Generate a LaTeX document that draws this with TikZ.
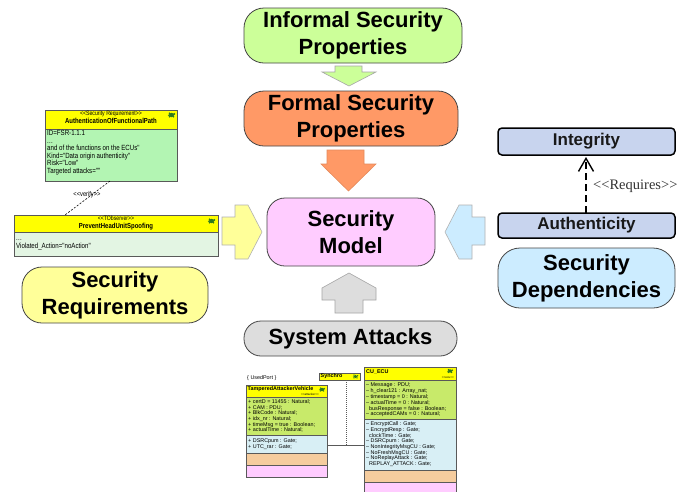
\documentclass[tikz,border=0pt]{standalone}
\usepackage{fontspec}
\setmainfont{Liberation Sans}
\newfontfamily\umlfont[FakeStretch=0.82]{Liberation Sans}
\newfontfamily\reqfont{Liberation Serif}
\usetikzlibrary{arrows.meta,fit}
\definecolor{boxline}{HTML}{454545}
\definecolor{cinformal}{HTML}{CCFF99}
\definecolor{cformal}{HTML}{FF9966}
\definecolor{cmodel}{HTML}{FFCCFF}
\definecolor{creq}{HTML}{FFFF99}
\definecolor{cdep}{HTML}{CCECFF}
\definecolor{catt}{HTML}{DDDDDD}
\definecolor{cprop}{HTML}{C8D4EE}
\definecolor{umlyellow}{HTML}{FFFF00}
\definecolor{srgreen}{HTML}{B3F5B3}
\definecolor{obsgreen}{HTML}{E3F5E3}
\definecolor{blkgreen}{HTML}{C8EA6A}
\definecolor{blkblue}{HTML}{D8EFF5}
\definecolor{blkpeach}{HTML}{F5CC9E}
\definecolor{blkpink}{HTML}{FFCCFF}
\definecolor{turtlegreen}{HTML}{2E7A1E}
\tikzset{
  bigbox/.style={draw=boxline, line width=0.8pt, rounded corners=#1, inner sep=0pt},
  bigtxt/.style={font=\bfseries\fontsize{22}{27}\selectfont, align=center, text=black},
  propbox/.style={draw=black, line width=1.5pt, rounded corners=4pt, fill=cprop, inner sep=0pt},
  proptxt/.style={font=\bfseries\fontsize{17}{20}\selectfont, text=black!90},
  blockarrow/.style={line width=0.6pt, line join=miter},
  umlrect/.style={draw=gray!70!black, line width=0.5pt},
  umlname/.style={font=\umlfont\bfseries\fontsize{7.3}{8}\selectfont, inner sep=0pt},
  umlster/.style={font=\umlfont\fontsize{6.3}{7}\selectfont, inner sep=0pt},
  umlbody/.style={font=\umlfont\fontsize{7.5}{7.5}\selectfont, inner sep=0pt, anchor=base west},
  blktxt/.style={font=\fontsize{5.4}{5.4}\selectfont, inner sep=0pt, anchor=base west},
  blkname/.style={font=\bfseries\fontsize{5.4}{5.5}\selectfont, inner sep=0pt},
  blksub/.style={font=\fontsize{3}{3}\selectfont, inner sep=0pt},
  turtle/.pic={
    \fill[turtlegreen] (0,0) ellipse (2.6 and 2.1);
    \fill[turtlegreen] (2.8,-1.0) circle (1.1);
    \fill[turtlegreen] (-2.0,1.8) circle (0.9) (2.0,1.8) circle (0.9)
                       (-2.0,-1.8) circle (0.9) (-3.0,0.3) circle (0.6);
  }
}
\begin{document}
\begin{tikzpicture}[x=1pt,y=-1pt]
\useasboundingbox (0,0) rectangle (686,491);
\fill[white] (0,0) rectangle (686,491);

% ---------- main boxes ----------
\node[bigbox=20pt, fill=cinformal, fit={(244,8) (462,63)}] (informal) {};
\node[bigtxt] at (informal.center) {Informal Security\\Properties};

\node[bigbox=20pt, fill=cformal, fit={(244,91) (458,146)}] (formal) {};
\node[bigtxt] at (formal.center) {Formal Security\\Properties};

\node[bigbox=18pt, fill=cmodel, fit={(267,198) (435,266)}] (model) {};
\node[bigtxt] at (model.center) {Security\\Model};

\node[bigbox=17pt, fill=catt, fit={(244,321) (457,356)}] (attacks) {};
\node[bigtxt] at (attacks.center) {System Attacks};

\node[bigbox=20pt, fill=creq, fit={(22,267) (208,323)}] (reqs) {};
\node[bigtxt] at (reqs.center) {Security\\Requirements};

\node[bigbox=22pt, fill=cdep, fit={(498,248) (675,308)}] (deps) {};
\node[bigtxt] at (deps.center) {Security\\Dependencies};

% ---------- block arrows ----------
\draw[blockarrow, draw=gray!70, fill=cinformal]
  (335,66) -- (362,66) -- (362,72) -- (376,72) -- (349,86) -- (322,72) -- (335,72) -- cycle;
\draw[blockarrow, draw=cformal!90!black, fill=cformal]
  (327,150) -- (364,150) -- (364,164) -- (376,164) -- (348.5,191) -- (321,164) -- (327,164) -- cycle;
\draw[blockarrow, draw=gray!60, fill=creq]
  (222,217) -- (235,217) -- (235,205) -- (248,205) -- (262,232) -- (248,259) -- (235,259) -- (235,245) -- (222,245) -- cycle;
\draw[blockarrow, draw=gray!60, fill=cdep]
  (485,217) -- (472,217) -- (472,205) -- (459,205) -- (445,232) -- (459,259) -- (472,259) -- (472,245) -- (485,245) -- cycle;
\draw[blockarrow, draw=gray!70, fill=catt]
  (335,313) -- (335,300) -- (322,300) -- (322,288) -- (349,273) -- (376,288) -- (376,300) -- (363,300) -- (363,313) -- cycle;

% ---------- security properties ----------
\node[propbox, fit={(498,128) (675,155)}] (integ) {};
\node[proptxt] at (integ.center) {Integrity};
\node[propbox, fit={(498,213) (675,238)}] (auth) {};
\node[proptxt] at (auth.center) {Authenticity};
\coordinate (reqA) at (586,213);
\coordinate (reqB) at (586,157);
\draw[line width=1.4pt, dash pattern=on 7pt off 4pt,
      -{Straight Barb[length=13pt,width=15pt,line width=1.4pt]}] (reqA) -- (reqB);
\node[font=\reqfont\fontsize{14.5}{16}\selectfont, text=black!80, anchor=west, inner sep=0pt]
  (reqlbl) at (593,186) {<\kern0pt<Requires>\kern0pt>};

% ---------- UML: security requirement ----------
\fill[srgreen] (45,129) rectangle (177,181);
\fill[umlyellow] (45,110) rectangle (177,129);
\draw[umlrect] (45,129) -- (177,129);
\node[umlrect, fit={(45,110) (177,181)}, inner sep=0pt] (sreq) {};
\node[umlster] at (111,113.5) {<\kern0pt<Security Requirement>\kern0pt>};
\node[umlname] at (111,121) {AuthenticationOfFunctionalPath};
\pic at (171.5,115) {turtle};
\node[umlbody] at (47,135.5) {ID=FSR-1.1.1};
\node[umlbody] at (47,143) {.\kern0.3pt.\kern0.3pt.};
\node[umlbody] at (47,150.5) {and of the functions on the ECUs"};
\node[umlbody] at (47,158) {Kind="Data origin authenticity"};
\node[umlbody] at (47,165.5) {Risk="Low"};
\node[umlbody] at (47,173) {Targeted attacks=""};

% ---------- UML: observer ----------
\fill[obsgreen] (14,232) rectangle (218,256);
\fill[umlyellow] (14,215) rectangle (218,232);
\draw[umlrect] (14,232) -- (218,232);
\node[umlrect, fit={(14,215) (218,256)}, inner sep=0pt] (obs) {};
\node[umlster] at (116,218.5) {<\kern0pt<TObserver>\kern0pt>};
\node[umlname] at (116,226.5) {PreventHeadUnitSpoofing};
\pic at (211.5,221) {turtle};
\node[umlbody] at (16,240) {.\kern0.3pt.\kern0.3pt.};
\node[umlbody] at (16,248) {Violated\_Action="noAction"};

% verify dependency
\coordinate (vA) at (110,181);
\coordinate (vB) at (65,215);
\draw[line width=0.6pt, dash pattern=on 2pt off 1.6pt] (vA) -- (vB);
\node[font=\umlfont\fontsize{7}{8}\selectfont, inner sep=0pt] (vlbl) at (87,195) {<\kern0pt<verify>\kern0pt>};

% ---------- UML blocks (bottom) ----------
\node[blktxt] (port) at (247,379.5) {\{ UsedPort \}};

% TamperedAttackerVehicle
\fill[umlyellow] (246,385) rectangle (327,397);
\fill[blkgreen] (246,397) rectangle (327,435);
\fill[blkblue] (246,435) rectangle (327,453);
\fill[blkpeach] (246,453) rectangle (327,465);
\fill[blkpink] (246,465) rectangle (327,477);
\draw[umlrect] (246,397) -- (327,397) (246,435) -- (327,435) (246,453) -- (327,453) (246,465) -- (327,465);
\node[umlrect, fit={(246,385) (327,477)}, inner sep=0pt] (tav) {};
\node[blkname, anchor=west] at (247.5,389.5) {TamperedAttackerVehicle};
\node[blksub, anchor=east] at (319,394.5) {<\kern0pt<attacker>\kern0pt>};
\pic[scale=0.8] at (322,389.5) {turtle};
\foreach \t [count=\i] in {{+ certD = 11455 : Natural;}, {+ CAM : PDU;}, {+ BlkCode : Natural;},
    {+ idx\_nr : Natural;}, {+ timeMsg = true : Boolean;}, {+ actualTime : Natural;}}
  \node[blktxt] at (248,398+5.6*\i) {\t};
\node[blktxt] at (248,442.5) {+ DSRCpum : Gate;};
\node[blktxt] at (248,448.5) {+ UTC\_rar : Gate;};

% Synchro
\node[umlrect, fill=umlyellow, fit={(319,373) (360,380)}, inner sep=0pt] (sync) {};
\node[blkname, anchor=west] at (320.5,376.5) {Synchro};
\pic[scale=0.75] at (355.5,376.5) {turtle};

% CU_ECU
\fill[umlyellow] (364,367) rectangle (456,380);
\fill[blkgreen] (364,380) rectangle (456,419);
\fill[blkblue] (364,419) rectangle (456,470);
\fill[blkpeach] (364,470) rectangle (456,482);
\fill[blkpink] (364,482) rectangle (456,492);
\draw[umlrect] (364,380) -- (456,380) (364,419) -- (456,419) (364,470) -- (456,470) (364,482) -- (456,482);
\node[umlrect, fit={(364,367) (456,492)}, inner sep=0pt] (ecu) {};
\node[blkname, anchor=west] at (366,372) {CU\_ECU};
\node[blksub, anchor=east] at (454,377.5) {<\kern0pt<ecu>\kern0pt>};
\pic[scale=0.8] at (450,371) {turtle};
\foreach \t [count=\i] in {{-- Message : PDU;}, {-- h\_clear121 : Array\_nat;}, {-- timestamp = 0 : Natural;},
    {-- actualTime = 0 : Natural;}, {\ \ busResponse = false : Boolean;}, {-- acceptedCAMs = 0 : Natural;}}
  \node[blktxt] at (366,381+5.8*\i) {\t};
\foreach \t [count=\i] in {{-- EncryptCall : Gate;}, {-- EncryptResp : Gate;}, {\ \ clockTime : Gate;},
    {-- DSRCpum : Gate;}, {-- NonIntegrityMsgCU : Gate;}, {-- NoFreshMsgCU : Gate;},
    {-- NoReplayAttack : Gate;}, {\ \ REPLAY\_ATTACK : Gate;}}
  \node[blktxt] at (366,420+5.7*\i) {\t};

% connections between blocks
\coordinate (syncfoot) at (346,445);
\draw[gray!70!black, line width=0.5pt, dash pattern=on 0.8pt off 1.2pt] (sync.south -| syncfoot) -- (syncfoot);
\draw[gray!70!black, line width=0.7pt] (tav.east |- syncfoot) -- (ecu.west |- syncfoot);
\end{tikzpicture}
\end{document}
